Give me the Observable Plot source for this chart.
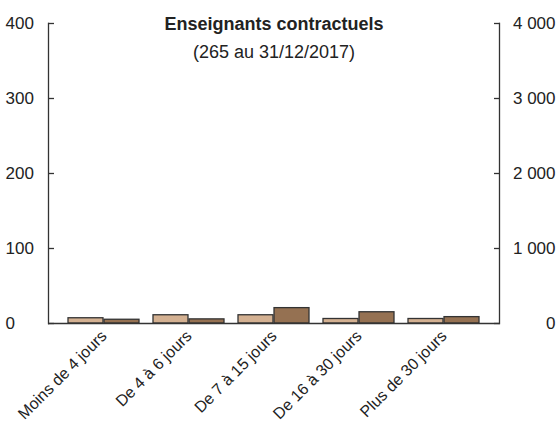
<!DOCTYPE html>
<html><head><meta charset="utf-8">
<script src="https://cdn.jsdelivr.net/npm/d3@7"></script>
<script src="https://cdn.jsdelivr.net/npm/@observablehq/plot@0.6"></script>
<style>body{margin:0;background:#fff}</style>
</head><body><div id="chart"></div>
<script>
const categories = ["Moins de 4 jours", "De 4 à 6 jours", "De 7 à 15 jours", "De 16 à 30 jours", "Plus de 30 jours"];
const leftValues = [7, 11, 11, 6, 6];          // read on the left axis
const rightValues = [50, 55, 205, 150, 85];    // read on the right axis
const leftTicks = [0, 100, 200, 300, 400];
const rightTicks = [0, 1000, 2000, 3000, 4000];
const title = "Enseignants contractuels";
const subtitle = "(265 au 31/12/2017)";

const W = 558, H = 427, mL = 48, mR = 59, mT = 23, mB = 104;
const xOpts = {type: "band", domain: categories, paddingInner: 0.16, paddingOuter: 0.21};
const bw = Plot.scale({x: {...xOpts, range: [mL, W - mR]}}).bandwidth;

const ratio = rightTicks[rightTicks.length - 1] / leftTicks[leftTicks.length - 1];
const leftData = categories.map((c, i) => ({cat: c, value: leftValues[i]}));
const rightData = categories.map((c, i) => ({cat: c, value: rightValues[i] / ratio}));
const rightTickPos = rightTicks.map(v => v / ratio);
const fmt = (v) => d3.format(",")(v).replace(/,/g, " ");
const axisColor = "#333";

const chart = Plot.plot({
  width: W, height: H,
  marginLeft: mL, marginRight: mR, marginTop: mT, marginBottom: mB,
  style: {fontFamily: "'Liberation Sans', Arial, Helvetica, sans-serif", fontSize: "16px", color: "#222", background: "#fff", overflow: "visible"},
  x: {...xOpts, label: null, axis: null},
  y: {domain: [leftTicks[0], leftTicks[leftTicks.length - 1]], axis: null, label: null},
  marks: [
    Plot.barY(leftData, {x: "cat", y: "value", fill: "#d4b192", stroke: "#333", strokeWidth: 1.3, insetRight: bw / 2}),
    Plot.barY(rightData, {x: "cat", y: "value", fill: "#957152", stroke: "#333", strokeWidth: 1.3, insetLeft: bw / 2}),
    Plot.ruleY([0], {stroke: axisColor, strokeWidth: 1.3}),
    Plot.frame({anchor: "left", stroke: axisColor, strokeWidth: 1.3}),
    Plot.frame({anchor: "right", stroke: axisColor, strokeWidth: 1.3}),
    Plot.axisY(leftTicks, {anchor: "left", tickSize: -6, text: null, label: null, stroke: axisColor, strokeWidth: 1.3}),
    Plot.axisY(leftTicks, {anchor: "left", tickSize: 0, tickPadding: 43, textAnchor: "start", fontSize: 17, tickFormat: fmt, label: null}),
    Plot.axisY(rightTickPos, {anchor: "right", tickSize: -6, text: null, label: null, stroke: axisColor, strokeWidth: 1.3}),
    Plot.axisY(rightTickPos, {anchor: "right", tickSize: 0, tickPadding: 56, textAnchor: "end", fontSize: 17, tickFormat: (d) => fmt(d * ratio), label: null}),
    Plot.axisX({anchor: "bottom", tickRotate: -45, tickSize: 0, tickPadding: 10, fontSize: 16, label: null}),
    Plot.text([title], {frameAnchor: "top", fontWeight: "bold", fontSize: 18, dy: -6, fill: "#222"}),
    Plot.text([subtitle], {frameAnchor: "top", fontSize: 18, dy: 22, fill: "#222"})
  ]
});
document.getElementById("chart").append(chart);
</script>
</body></html>
